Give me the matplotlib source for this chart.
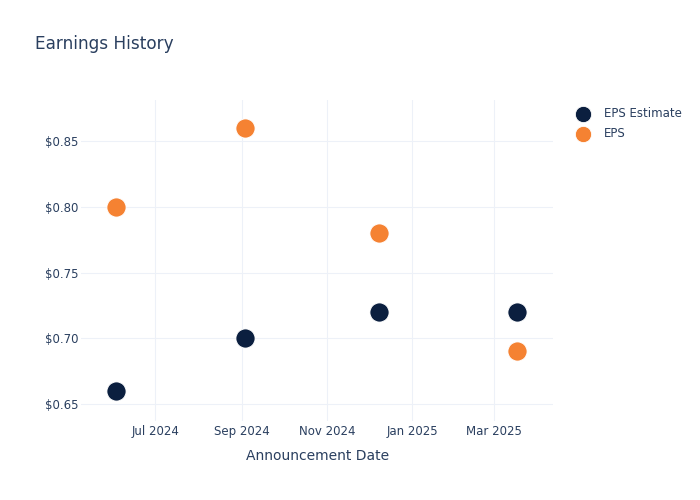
import matplotlib
matplotlib.use("Agg")
import matplotlib.pyplot as plt
import pandas as pd

dates = pd.to_datetime(["2024-06-03", "2024-09-03", "2024-12-08", "2025-03-17"])
eps_estimate = [0.66, 0.70, 0.72, 0.72]
eps_actual = [0.80, 0.86, 0.78, 0.69]
tick_dates = pd.to_datetime(["2024-07-01", "2024-09-01", "2024-11-01",
                             "2025-01-01", "2025-03-01"])
tick_labels = ["Jul 2024", "Sep 2024", "Nov 2024", "Jan 2025", "Mar 2025"]
y_ticks = [0.65, 0.70, 0.75, 0.80, 0.85]

text_color = "#2a3f5f"
grid_color = "#edf1f8"

fig = plt.figure(figsize=(7, 5), dpi=100)
ax = fig.add_axes([0.116, 0.158, 0.674, 0.642])

ax.scatter(dates, eps_estimate, s=190, color="#0b1f3f", edgecolors="white",
           linewidths=0.6, label="EPS Estimate", zorder=3)
ax.scatter(dates, eps_actual, s=190, color="#f58232", edgecolors="white",
           linewidths=0.6, label="EPS", zorder=3)

ax.set_xlim(pd.Timestamp("2024-05-09"), pd.Timestamp("2025-04-12"))
ax.set_ylim(0.6371, 0.8812)
ax.set_xticks(tick_dates)
ax.set_xticklabels(tick_labels)
ax.set_yticks(y_ticks)
ax.set_yticklabels([f"${v:.2f}" for v in y_ticks])
ax.tick_params(length=0, labelsize=8.5, colors=text_color)
ax.tick_params(axis="y", pad=2)
ax.tick_params(axis="x", pad=3)
ax.grid(True, color=grid_color, linewidth=0.8)
ax.set_axisbelow(True)
for s in ax.spines.values():
    s.set_visible(False)

ax.set_xlabel("Announcement Date", fontsize=10, color=text_color, labelpad=8)
fig.text(35 / 700, 1 - 44 / 500, "Earnings History", fontsize=12.2,
         color=text_color, va="center", ha="left")

leg = fig.legend(loc="upper left", bbox_to_anchor=(571 / 700, 1 - 107 / 500),
                 frameon=False, fontsize=8.5, labelcolor=text_color,
                 handletextpad=0.8, borderaxespad=0, borderpad=0,
                 labelspacing=0.6, markerscale=0.85)

fig.savefig("out.png", dpi=100)
